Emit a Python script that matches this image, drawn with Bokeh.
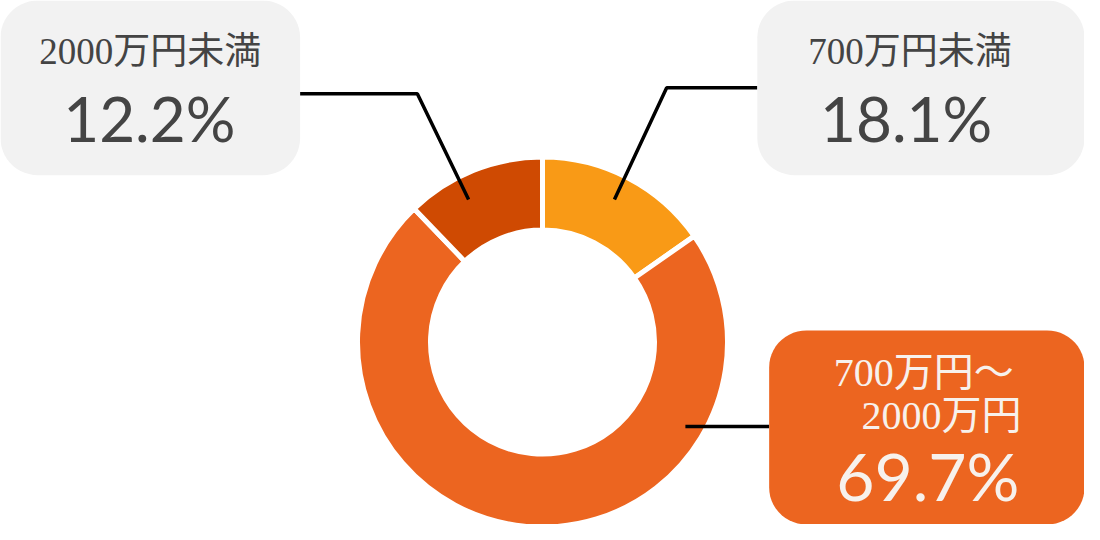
import numpy as np
from bokeh.plotting import figure
from bokeh.models import Range1d, ColumnDataSource
from bokeh.core.properties import value
from bokeh.embed import file_html
from bokeh.resources import INLINE

# ---- data ----
categories = ["700万円未満", "700万円〜2000万円", "2000万円未満"]
percent_labels = ["18.1%", "69.7%", "12.2%"]
arc_shares = [15.3, 72.5, 12.2]          # slice sizes as drawn in the picture
slice_colors = ["#F99A16", "#EC6520", "#CF4A02"]

W, H = 1100, 540
p = figure(width=1084, height=524, x_range=Range1d(0, W), y_range=Range1d(0, H),
           output_backend="svg", toolbar_location=None, min_border=0)
p.axis.visible = False
p.grid.visible = False
p.outline_line_color = None
p.background_fill_color = "white"
p.border_fill_color = "white"


def Y(v):
    return H - v


# ---- donut ----
cx, cy = 550, Y(352)
frac = np.array(arc_shares) / sum(arc_shares)
cum = np.concatenate([[0.0], np.cumsum(frac)])
start = np.pi / 2 - 2 * np.pi * cum[:-1]
end = np.pi / 2 - 2 * np.pi * cum[1:]
src = ColumnDataSource(dict(start=start, end=end, color=slice_colors, cat=categories))
p.annular_wedge(x=cx, y=cy, inner_radius=112, outer_radius=185,
                inner_radius_units="screen", outer_radius_units="screen",
                start_angle="start", end_angle="end", direction="clock",
                fill_color="color", line_color="white", line_width=5, source=src)

# ---- leader lines ----
lx = [[304, 423, 475], [768, 676, 623], [695, 780]]
ly = [[96, 96, 205], [90, 90, 205], [439, 439]]
p.multi_line(xs=lx, ys=[[Y(v) for v in l] for l in ly], line_color="black", line_width=3.5)


# ---- label boxes ----
def rounded(x0, y0, x1, y1, r, n=14):
    pts = []
    corners = [(x1 - r, y0 + r, -90, 0), (x1 - r, y1 - r, 0, 90),
               (x0 + r, y1 - r, 90, 180), (x0 + r, y0 + r, 180, 270)]
    for ccx, ccy, a0, a1 in corners:
        for a in np.linspace(np.radians(a0), np.radians(a1), n):
            pts.append((ccx + r * np.cos(a), ccy + r * np.sin(a)))
    xs, ys = zip(*pts)
    return list(xs), [Y(v) for v in ys]


boxes = [(0, 0, 304, 180), (768, 0, 1100, 180), (780, 340, 1100, 540)]
box_colors = ["#F2F2F2", "#F2F2F2", slice_colors[1]]
bx, by = [], []
for b in boxes:
    xs, ys = rounded(*b, 38)
    bx.append(xs)
    by.append(ys)
p.patches(xs=bx, ys=by, fill_color=box_colors, line_color=None)

# ---- texts ----
cat_font = value("Liberation Serif, Noto Sans CJK JP")
pct_font = value("Lato")
dark = "#444444"
light = "#F7F1EC"

p.text(x=[152, 923], y=[Y(53), Y(53)], text=[categories[2], categories[0]],
       text_font=cat_font, text_font_size="37px", text_color=dark,
       text_align="center", text_baseline="middle")
p.text(x=[151, 919], y=[Y(121), Y(121)], text=[percent_labels[2], percent_labels[0]],
       text_font=pct_font, text_font_size="62px", text_color=dark,
       text_align="center", text_baseline="middle")

mid_lines = ["700万円〜", "2000万円"]
p.text(x=[937, 955], y=[Y(383), Y(428)], text=mid_lines,
       text_font=cat_font, text_font_size="40px", text_color=light,
       text_align="center", text_baseline="middle")
p.text(x=[941], y=[Y(489)], text=[percent_labels[1]],
       text_font=pct_font, text_font_size="66px", text_color=light,
       text_align="center", text_baseline="middle")

open("out.html", "w").write(file_html(p, INLINE))
